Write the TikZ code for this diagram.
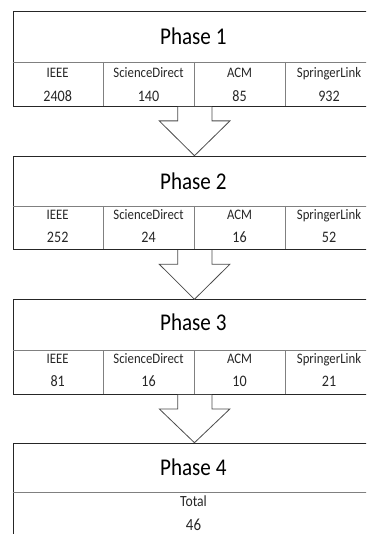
\documentclass[tikz,border=0pt]{standalone}
\usepackage{fontspec}
\setmainfont{Carlito}[FakeStretch=0.88]
\usetikzlibrary{calc}
\tikzset{
  outer/.style={draw=black!85,line width=0.9pt},
  inner/.style={draw=black!50,line width=0.9pt},
  boxnode/.style={outer,inner sep=0pt,minimum width=361.5pt,anchor=north west},
  phasetxt/.style={anchor=base,inner sep=0pt,font=\fontsize{24}{26}\selectfont},
  celltxt/.style={anchor=base,inner sep=0pt,font=\fontsize{14.5}{16}\selectfont,text=black!85},
  numtxt/.style={anchor=base,inner sep=0pt,font=\fontsize{16}{18}\selectfont,text=black!85},
  blockarrow/.style={draw=black!70,line width=0.8pt,line join=miter},
}
\begin{document}
\begin{tikzpicture}[x=1pt,y=-1pt]
\useasboundingbox (0,0) rectangle (366,534);
\clip (0,0) rectangle (366,534);
% ---------- Phase 1 ----------
\node[boxnode,minimum height=95pt] (B1) at (12.5,11) {};
\draw[inner] (12.5,62) coordinate (D1a) -- (374,62) coordinate (D1b);
\foreach \x/\n in {103/a,194/b,285/c} \draw[inner] (\x,62) coordinate (V1\n) -- (\x,106);
\node[phasetxt] (T1) at (193.3,45) {Phase 1};
\node[celltxt] (C11) at (57.7,77.7) {IEEE};
\node[celltxt] (C12) at (148.5,77.7) {ScienceDirect};
\node[celltxt] (C13) at (239.5,77.7) {ACM};
\node[celltxt] (C14) at (329,77.7) {SpringerLink};
\node[numtxt] (N11) at (57.7,101.7) {2408};
\node[numtxt] (N12) at (148.5,101.7) {140};
\node[numtxt] (N13) at (239.5,101.7) {85};
\node[numtxt] (N14) at (329,101.7) {932};
% ---------- Phase 2 ----------
\node[boxnode,minimum height=93.6pt] (B2) at (12.5,155.7) {};
\draw[inner] (12.5,206) -- (374,206);
\foreach \x in {103,194,285} \draw[inner] (\x,206) -- (\x,249.3);
\node[phasetxt] (T2) at (193.3,190) {Phase 2};
\node[celltxt] (C21) at (57.7,220) {IEEE};
\node[celltxt] (C22) at (148.5,220) {ScienceDirect};
\node[celltxt] (C23) at (239.5,220) {ACM};
\node[celltxt] (C24) at (329,220) {SpringerLink};
\node[numtxt] (N21) at (57.7,242.7) {252};
\node[numtxt] (N22) at (148.5,242.7) {24};
\node[numtxt] (N23) at (239.5,242.7) {16};
\node[numtxt] (N24) at (329,242.7) {52};
% ---------- Phase 3 ----------
\node[boxnode,minimum height=94.7pt] (B3) at (12.5,299.3) {};
\draw[inner] (12.5,350.7) -- (374,350.7);
\foreach \x in {103,194,285} \draw[inner] (\x,350.7) -- (\x,394);
\node[phasetxt] (T3) at (193.3,330) {Phase 3};
\node[celltxt] (C31) at (57.7,363.3) {IEEE};
\node[celltxt] (C32) at (148.5,363.3) {ScienceDirect};
\node[celltxt] (C33) at (239.5,363.3) {ACM};
\node[celltxt] (C34) at (329,363.3) {SpringerLink};
\node[numtxt] (N31) at (57.7,386.7) {81};
\node[numtxt] (N32) at (148.5,386.7) {16};
\node[numtxt] (N33) at (239.5,386.7) {10};
\node[numtxt] (N34) at (329,386.7) {21};
% ---------- Phase 4 ----------
\node[boxnode,minimum height=130pt] (B4) at (12.5,442.7) {};
\draw[inner] (12.5,492) -- (374,492);
\node[phasetxt] (T4) at (193.3,475) {Phase 4};
\node[numtxt,font=\fontsize{15.5}{17}\selectfont] (C41) at (193.5,506.7) {Total};
\node[numtxt,font=\fontsize{17}{19}\selectfont] (N41) at (193.5,530.7) {46};
% ---------- block arrows ----------
\foreach \u/\l in {B1/B2,B2/B3,B3/B4}{
  \path (\u.south) ++(0.75,0) coordinate (s) (\l.north) ++(0.75,0) coordinate (t);
  \fill[white] ($(s)+(-16.8,0)$) -- ($(s)+(-16.8,14)$) -- ($(s)+(-35.2,14)$) -- (t)
     -- ($(s)+(35.5,14)$) -- ($(s)+(17.5,14)$) -- ($(s)+(17.5,0)$) -- cycle;
  \draw[blockarrow] ($(s)+(-16.8,0)$) -- ($(s)+(-16.8,14)$) -- ($(s)+(-35.2,14)$) -- (t)
     -- ($(s)+(35.5,14)$) -- ($(s)+(17.5,14)$) -- ($(s)+(17.5,0)$);
}
\end{tikzpicture}
\end{document}
